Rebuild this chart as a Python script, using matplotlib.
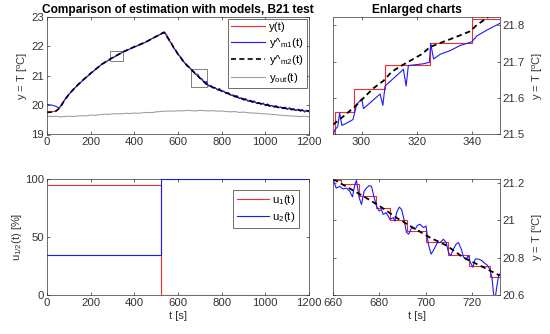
import numpy as np
from matplotlib import pyplot as plt
from matplotlib.patches import Rectangle
from matplotlib.ticker import FuncFormatter

plt.rcParams['font.family'] = ['Liberation Sans', 'DejaVu Sans']
plt.rcParams['mathtext.fontset'] = 'custom'
plt.rcParams['mathtext.rm'] = 'Liberation Sans'
plt.rcParams['font.size'] = 8

# --- main chart (B21 test) ---
t_main = [0, 20, 40, 60, 80, 100, 130, 160, 200, 250, 300, 350, 400, 450, 500, 536,
          560, 580, 600, 630, 660, 700, 730, 760, 800, 850, 900, 950, 1000, 1050, 1100, 1150, 1200]
y_main = [19.77, 19.77, 19.79, 19.92, 20.17, 20.36, 20.60, 20.81, 21.07, 21.38, 21.60, 21.81,
          21.97, 22.13, 22.33, 22.48, 22.20, 21.96, 21.73, 21.43, 21.20, 20.92, 20.71, 20.60,
          20.48, 20.32, 20.20, 20.10, 20.01, 19.94, 19.88, 19.83, 19.79]
m2_main = [19.75, 19.76, 19.79, 19.91, 20.16, 20.36, 20.61, 20.82, 21.08, 21.38, 21.61, 21.81,
           21.98, 22.13, 22.33, 22.47, 22.21, 21.96, 21.73, 21.44, 21.21, 20.92, 20.71, 20.60,
           20.48, 20.33, 20.20, 20.10, 20.01, 19.94, 19.88, 19.83, 19.80]

t_m1 = [0, 20, 40, 55, 80, 100, 130, 160, 200, 250, 300, 350, 400, 450, 500, 530,
        540, 550, 560, 570, 580, 590, 600, 610, 620, 630, 640, 650, 660, 670, 680, 690,
        700, 710, 720, 730, 740, 750, 760, 770, 780, 790, 800, 810, 820, 830, 840, 850,
        860, 870, 880, 890, 900, 910, 920, 930, 940, 950, 960, 970, 980, 990, 1000, 1010,
        1020, 1030, 1040, 1050, 1060, 1070, 1080, 1090, 1100, 1110, 1120, 1130, 1140, 1150,
        1160, 1170, 1180, 1190, 1200]
y_m1 = [20.02, 20.00, 19.96, 19.90, 20.16, 20.36, 20.60, 20.81, 21.07, 21.38, 21.60, 21.81,
        21.97, 22.13, 22.33, 22.44,
        22.46, 22.36, 22.18, 22.10, 21.93, 21.86, 21.71, 21.66, 21.50, 21.45, 21.33, 21.30,
        21.22, 21.15, 21.04, 21.05, 20.91, 20.89, 20.77, 20.80, 20.64, 20.67, 20.58, 20.60,
        20.51, 20.56, 20.46, 20.48, 20.39, 20.42, 20.33, 20.35, 20.27, 20.32, 20.22, 20.24,
        20.17, 20.22, 20.13, 20.16, 20.09, 20.14, 20.05, 20.08, 20.03, 20.07, 19.98, 20.04,
        19.95, 19.99, 19.93, 19.98, 19.90, 19.94, 19.88, 19.93, 19.85, 19.91, 19.83, 19.87,
        19.81, 19.86, 19.79, 19.84, 19.76, 19.82, 19.77]

t_out = list(range(0, 1201, 20))
y_out = [19.62, 19.61, 19.62, 19.60, 19.61, 19.62, 19.61, 19.63, 19.64, 19.63, 19.66, 19.65,
         19.67, 19.69, 19.68, 19.70, 19.71, 19.70, 19.72, 19.71, 19.73, 19.72, 19.74, 19.75,
         19.74, 19.77, 19.78, 19.79, 19.80, 19.79, 19.81, 19.80, 19.82, 19.81, 19.80, 19.82,
         19.81, 19.80, 19.81, 19.79, 19.80, 19.78, 19.77, 19.78, 19.75, 19.76, 19.74, 19.73,
         19.72, 19.71, 19.70, 19.69, 19.68, 19.66, 19.65, 19.64, 19.63, 19.62, 19.61, 19.62, 19.60]

# --- control signals ---
t_u = [0, 520, 1200]
u1 = [95, 0, 0]
u2 = [35, 100, 100]

# --- enlarged chart 1 (290..350 s) ---
t_z1_y = [289.7, 290.3, 297.3, 308.5, 324.7, 340.0, 350.0]
z1_y = [21.500, 21.563, 21.625, 21.690, 21.752, 21.816, 21.816]
t_z1_m1 = [289.7, 290.4, 291.4, 292.1, 292.9, 294.1, 296.9, 298.3, 300.1, 300.7, 306.7, 307.7,
           308.5, 313.9, 315.1, 316.1, 316.9, 322.4, 324.5, 325.0, 326.0, 328.4, 332.0, 335.6,
           339.8, 341.6, 345.2, 350.0]
z1_m1 = [21.500, 21.513, 21.522, 21.559, 21.525, 21.529, 21.541, 21.583, 21.598, 21.571, 21.611,
         21.580, 21.633, 21.670, 21.679, 21.633, 21.689, 21.694, 21.698, 21.749, 21.707, 21.720,
         21.730, 21.744, 21.754, 21.770, 21.786, 21.805]
t_z1_m2 = [289.7, 293.5, 297.4, 300.7, 304.3, 307.9, 310.9, 314.5, 318.2, 321.7, 324.8, 328.4,
           331.9, 335.6, 339.2, 341.6, 345.2, 347.5]
z1_m2 = [21.527, 21.550, 21.575, 21.600, 21.627, 21.647, 21.672, 21.689, 21.705, 21.720, 21.740,
         21.751, 21.761, 21.772, 21.783, 21.800, 21.819, 21.835]

# --- enlarged chart 2 (660..732 s) ---
t_z2_y = [660.0, 663.6, 671.0, 678.4, 684.5, 692.0, 700.0, 709.5, 718.8, 727.6, 732.0]
z2_y = [21.218, 21.195, 21.133, 21.064, 21.002, 20.944, 20.882, 20.816, 20.754, 20.696, 20.696]
t_z2_m2 = [660.0, 673.0, 680.2, 687.4, 694.6, 701.8, 709.1, 716.3, 723.5, 731.9]
z2_m2 = [21.221, 21.130, 21.076, 21.014, 20.960, 20.908, 20.864, 20.800, 20.757, 20.704]
t_z2_m1 = [660.0, 661.4, 662.9, 664.3, 665.8, 667.2, 668.4, 669.4, 670.1, 671.3, 672.3, 673.4,
           674.4, 675.6, 676.6, 677.6, 678.8, 679.9, 680.9, 681.6, 682.8, 683.8, 684.5, 686.0,
           686.7, 687.4, 688.6, 689.6, 690.6, 691.7, 692.6, 693.9, 695.4, 696.4, 697.5, 699.0,
           700.1, 701.1, 702.3, 703.6, 705.0, 706.2, 707.6, 708.8, 709.8, 710.8, 711.9, 713.1,
           714.1, 715.3, 716.3, 717.4, 718.4, 719.2, 720.3, 721.3, 722.8, 724.2, 725.2, 726.4,
           727.5, 728.5, 729.3, 730.0, 730.7, 731.4, 731.9]
z2_m1 = [21.218, 21.173, 21.182, 21.168, 21.173, 21.156, 21.126, 21.191, 21.214, 21.120, 21.085,
         21.156, 21.173, 21.186, 21.182, 21.129, 21.076, 21.050, 21.058, 21.032, 21.041, 21.023,
         21.005, 21.014, 20.996, 21.041, 21.071, 21.058, 21.005, 20.935, 20.926, 20.961, 20.952,
         20.973, 20.979, 20.961, 20.970, 20.873, 20.819, 20.846, 20.881, 20.881, 20.899, 20.881,
         20.828, 20.811, 20.846, 20.873, 20.881, 20.846, 20.802, 20.793, 20.811, 20.775, 20.749,
         20.793, 20.793, 20.784, 20.772, 20.761, 20.740, 20.696, 20.598, 20.589, 20.651, 20.704,
         20.713]

RED, BLUE, GREY = '#f52a2a', '#1a1aff', '#a0a0a0'
EDGE = '#333333'
FS = 8.2

def style(ax, right=False):
    ax.tick_params(direction='in', length=2.5, width=0.5, colors=EDGE, labelsize=FS,
                   top=True, bottom=True, left=True, right=True, pad=2)
    if right:
        ax.tick_params(labelleft=False, labelright=True)
        ax.yaxis.set_label_position('right')
    for s in ax.spines.values():
        s.set_linewidth(0.5)
        s.set_color(EDGE)

def legend(ax, **kw):
    leg = ax.legend(loc='upper right', fontsize=FS, fancybox=False, framealpha=1,
                    borderpad=0.3, handletextpad=0.3, **kw)
    leg.get_frame().set_edgecolor(EDGE)
    leg.get_frame().set_linewidth(0.5)

fig = plt.figure(figsize=(5.5, 3.34), dpi=100)
W, H = 550, 334
ax1 = fig.add_axes([47/W, 1-134.5/H, 262/W, 117.8/H])
ax2 = fig.add_axes([333/W, 1-134.5/H, 167/W, 117.8/H])
ax3 = fig.add_axes([47/W, 1-295/H, 262/W, 115.7/H])
ax4 = fig.add_axes([333/W, 1-295/H, 167/W, 115.7/H])

ylab = r'y = T [$^{\mathregular{o}}$C]'

# main chart
ax1.plot(t_main, y_main, color=RED, lw=0.8, label='y(t)')
ax1.plot(t_m1, y_m1, color=BLUE, lw=0.8, label=r'y^$_{\mathregular{m1}}$(t)')
ax1.plot(t_main, m2_main, color='k', lw=1.2, ls=(0, (3, 2)), label=r'y^$_{\mathregular{m2}}$(t)')
ax1.plot(t_out, y_out, color=GREY, lw=0.8, label=r'y$_{\mathregular{out}}$(t)')
ax1.add_patch(Rectangle((290, 21.5), 60, 0.323, fill=False, ec='#808080', lw=0.7))
ax1.add_patch(Rectangle((660, 20.6), 72, 0.62, fill=False, ec='#808080', lw=0.7))
ax1.set_xlim(0, 1200)
ax1.set_ylim(19, 23)
ax1.set_xticks(range(0, 1201, 200))
ax1.set_yticks([19, 20, 21, 22, 23])
ax1.set_ylabel(ylab, color=EDGE, labelpad=1)
ax1.set_title('Comparison of estimation with models, B21 test', fontsize=8.6,
              fontweight='bold', pad=3)
legend(ax1, handlelength=3.0, labelspacing=0.3, borderaxespad=0.2)
style(ax1)

# enlarged 1
ax2.plot(t_z1_y, z1_y, color=RED, lw=0.8, drawstyle='steps-post')
ax2.plot(t_z1_m1, z1_m1, color=BLUE, lw=0.8)
ax2.plot(t_z1_m2, z1_m2, color='k', lw=1.3, ls=(0, (3, 2)))
ax2.set_xlim(289.7, 350)
ax2.set_ylim(21.5, 21.823)
ax2.set_xticks([300, 320, 340])
ax2.set_yticks([21.5, 21.6, 21.7, 21.8])
ax2.set_ylabel(ylab, color=EDGE, labelpad=4)
ax2.set_title('Enlarged charts', fontsize=8.6, fontweight='bold', pad=3)
style(ax2, right=True)

# control signals
ax3.plot(t_u, u1, color=RED, lw=0.8, drawstyle='steps-post', label=r'u$_{\mathregular{1}}$(t)', zorder=3)
ax3.plot(t_u, u2, color=BLUE, lw=0.8, drawstyle='steps-post', label=r'u$_{\mathregular{2}}$(t)', zorder=3)
ax3.set_xlim(0, 1200)
ax3.set_ylim(0, 100)
ax3.set_xticks(range(0, 1201, 200))
ax3.set_yticks([0, 50, 100])
ax3.set_xlabel('t [s]', color=EDGE, labelpad=2)
ax3.set_ylabel(r'u$_{\mathregular{1/2}}$(t) [%]', color=EDGE, labelpad=1)
legend(ax3, handlelength=2.8, labelspacing=0.3, borderaxespad=0.9)
style(ax3)

# enlarged 2
ax4.plot(t_z2_y, z2_y, color=RED, lw=0.8, drawstyle='steps-post')
ax4.plot(t_z2_m1, z2_m1, color=BLUE, lw=0.8)
ax4.plot(t_z2_m2, z2_m2, color='k', lw=1.3, ls=(0, (3, 2)))
ax4.set_xlim(660, 732)
ax4.set_ylim(20.6, 21.22)
ax4.set_xticks([660, 680, 700, 720])
ax4.set_yticks([20.6, 20.8, 21.0, 21.2])
ax4.yaxis.set_major_formatter(FuncFormatter(lambda v, p: '%g' % round(v, 2)))
ax4.set_xlabel('t [s]', color=EDGE, labelpad=2)
ax4.set_ylabel(ylab, color=EDGE, labelpad=4)
style(ax4, right=True)

fig.savefig('out.png', dpi=100)
